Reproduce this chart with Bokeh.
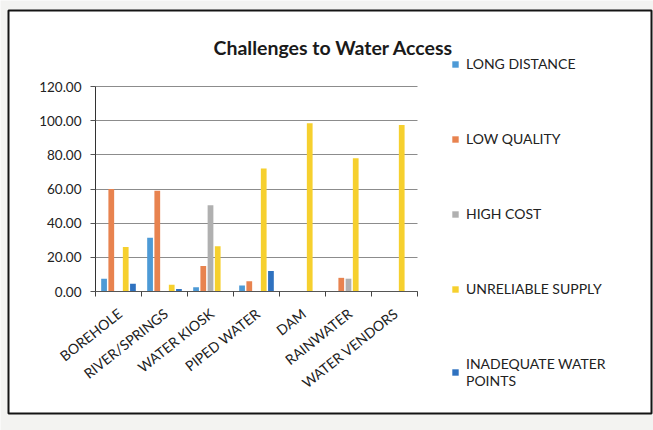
from bokeh.plotting import figure
from bokeh.models import (Range1d, FixedTicker, NumeralTickFormatter, Legend,
                          LegendItem, Label, BoxAnnotation)
from bokeh.embed import file_html
from bokeh.resources import INLINE
import numpy as np

# Water sources (x categories)
sources = ["BOREHOLE", "RIVER/SPRINGS", "WATER KIOSK", "PIPED WATER",
           "DAM", "RAINWATER", "WATER VENDORS"]

# Share of respondents per challenge (%)
long_distance = [7.5, 31.5, 2.5, 3.5, 0, 0, 0]
low_quality = [60, 59, 15, 6, 0, 8, 0]
high_cost = [0, 0, 50.5, 0, 0, 7.5, 0]
unreliable_supply = [26, 4, 26.5, 72, 98.5, 78, 97.5]
inadequate_points = [4.5, 1.5, 0, 12, 0, 0, 0]

series_names = ["LONG DISTANCE", "LOW QUALITY", "HIGH COST",
                "UNRELIABLE SUPPLY", "INADEQUATE WATER\nPOINTS"]
series_values = [long_distance, low_quality, high_cost,
                 unreliable_supply, inadequate_points]
series_colors = ["#4d9ad6", "#e8834f", "#b0b0b0", "#f6d02e", "#2f72c0"]

y_ticks = [0, 20, 40, 60, 80, 100, 120]

FONT = "Lato"
TEXT = "#222222"

# The plot frame fills the whole canvas; axes sit at fixed data positions.
W, H = 653, 430
PX_PER_CAT = 46.0           # width of one category
PX_PER_UNIT = 205 / 120.0   # vertical scale
ORIGIN_X, ORIGIN_Y = 95, 291  # canvas pixel of the (0, 0) data point
n_cat = len(sources)


def px_x(px):
    return (px - ORIGIN_X) / PX_PER_CAT


def px_y(py):
    return (ORIGIN_Y - py) / PX_PER_UNIT


p = figure(width=W, height=H, output_backend="svg", toolbar_location=None,
           title=None,
           x_range=Range1d(px_x(0), px_x(W)), y_range=Range1d(px_y(H), px_y(0)),
           min_border_left=0, min_border_right=0, min_border_top=0, min_border_bottom=0)
p.background_fill_color = "#f3f3f1"
p.border_fill_color = "#f3f3f1"
p.outline_line_color = None

# white chart sheet with its dark frame
sheet = BoxAnnotation(left=px_x(8), right=px_x(651), top=px_y(10), bottom=px_y(413),
                      fill_color="white", fill_alpha=1.0,
                      line_color="#141414", line_alpha=1.0, line_width=2, level="image")
p.add_layout(sheet)

# clustered bars
n = len(series_names)
step = 0.157
width = 0.125
centers = np.arange(n_cat) + 0.5
items = []
for k, (name, vals, col) in enumerate(zip(series_names, series_values, series_colors)):
    xs = centers + (k - (n - 1) / 2) * step
    r = p.vbar(x=xs, top=vals, width=width, fill_color=col, line_color=None)
    items.append(LegendItem(label=name, renderers=[r]))

# y axis at x = 0
p.yaxis.fixed_location = 0
p.yaxis.ticker = FixedTicker(ticks=y_ticks)
p.yaxis.bounds = (0, 120)
p.yaxis.formatter = NumeralTickFormatter(format="0.00")
p.yaxis.major_label_text_font = FONT
p.yaxis.major_label_text_font_size = "13.5px"
p.yaxis.major_label_text_color = TEXT
p.yaxis.axis_line_color = "#333333"
p.yaxis.major_tick_line_color = "#555555"
p.yaxis.major_tick_out = 5
p.yaxis.major_tick_in = 0
p.yaxis.minor_tick_line_color = None
p.yaxis.major_label_standoff = 9

# x axis at y = 0: labels at category centres, ticks at category boundaries
label_pos = list(centers + 0.03)
p.xaxis.fixed_location = 0
p.xaxis.ticker = FixedTicker(ticks=label_pos, minor_ticks=list(range(n_cat + 1)))
p.xaxis.bounds = (0, n_cat)
p.xaxis.major_label_overrides = {float(x): s for x, s in zip(label_pos, sources)}
p.xaxis.major_label_orientation = 0.67
p.xaxis.major_label_text_font = FONT
p.xaxis.major_label_text_font_size = "14px"
p.xaxis.major_label_text_color = TEXT
p.xaxis.major_tick_line_color = None
p.xaxis.minor_tick_line_color = "#444444"
p.xaxis.minor_tick_out = 5
p.xaxis.minor_tick_in = 0
p.xaxis.axis_line_color = "#555555"
p.xaxis.major_label_standoff = 14

p.xgrid.grid_line_color = None
p.ygrid.ticker = FixedTicker(ticks=y_ticks)
p.ygrid.grid_line_color = "#8c8c8c"
p.ygrid.grid_line_width = 1
p.ygrid.cross_bounds = (0, n_cat)

# chart title
title = Label(x=px_x(213), y=px_y(47), text="Challenges to Water Access",
              text_font=FONT, text_font_size="19.5px", text_font_style="bold",
              text_color="#1a1a1a", text_baseline="alphabetic", text_align="left")
p.add_layout(title)

# legend to the right of the bars (location = bottom-left, px from frame bottom-left)
legend = Legend(items=items, location=(451, H - 389), orientation="vertical",
                glyph_width=8, glyph_height=8, label_standoff=7,
                label_text_font=FONT, label_text_font_size="14px",
                label_text_color=TEXT, label_height=17, spacing=58,
                padding=0, margin=0, border_line_color=None,
                background_fill_alpha=0)
p.add_layout(legend)

open("out.html", "w").write(file_html(p, INLINE))
